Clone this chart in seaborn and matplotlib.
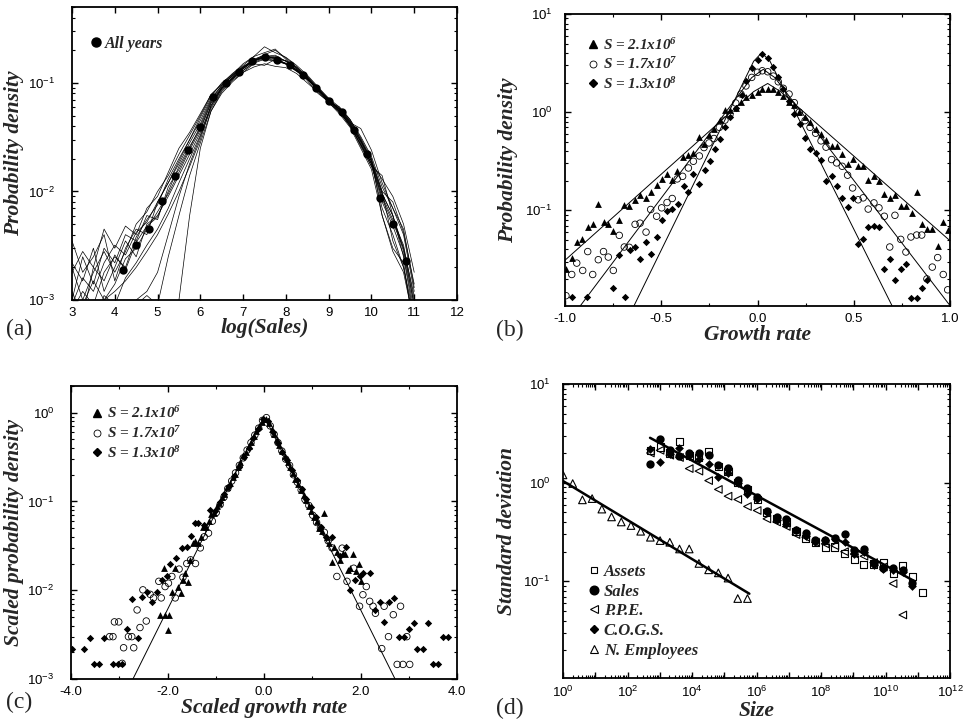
import numpy as np
import pandas as pd
import matplotlib
matplotlib.use("Agg")
import matplotlib.pyplot as plt
import seaborn as sns
from matplotlib.lines import Line2D
from matplotlib.font_manager import FontProperties
from matplotlib import ticker

# ---------------- Panel (a): distribution of log(Sales) ----------------
log_sales_grid = [3.0, 3.25, 3.5, 3.75, 4.0, 4.25, 4.5, 4.75, 5.0, 5.25, 5.5,
                  5.75, 6.0, 6.25, 6.5, 6.75, 7.0, 7.25, 7.5, 7.75, 8.0, 8.25,
                  8.5, 8.75, 9.0, 9.25, 9.5, 9.75, 10.0, 10.25, 10.5, 10.75, 11.0]

year_density = [
    [0.0022, 0.0015, 0.0030, 0.0012, 0.0020, 0.0035, 0.0025, 0.0050, 0.0060, 0.0090, 0.014, 0.022, 0.035, 0.060, 0.088, 0.110, 0.135, 0.160, 0.175, 0.170, 0.150, 0.130, 0.110, 0.085, 0.070, 0.058, 0.045, 0.030, 0.019, 0.0095, 0.0060, 0.0030, 0.0009],
    [0.0035, 0.0018, 0.0025, 0.0040, 0.0015, 0.0030, 0.0045, 0.0040, 0.0080, 0.012, 0.018, 0.028, 0.042, 0.070, 0.095, 0.115, 0.140, 0.165, 0.180, 0.165, 0.160, 0.140, 0.115, 0.090, 0.065, 0.055, 0.040, 0.027, 0.017, 0.0140, 0.0060, 0.0025, 0.0007],
    [0.0008, 0.0012, 0.0009, 0.0018, 0.0025, 0.0020, 0.0038, 0.0055, 0.0075, 0.013, 0.020, 0.030, 0.048, 0.075, 0.100, 0.120, 0.150, 0.175, 0.190, 0.205, 0.165, 0.135, 0.105, 0.080, 0.067, 0.060, 0.046, 0.032, 0.021, 0.011, 0.0070, 0.0040, 0.0012],
    [0.0005, 0.0008, 0.0006, 0.0011, 0.0009, 0.0016, 0.0022, 0.0032, 0.0045, 0.0070, 0.012, 0.020, 0.033, 0.062, 0.090, 0.112, 0.138, 0.163, 0.170, 0.160, 0.150, 0.128, 0.108, 0.088, 0.072, 0.057, 0.042, 0.029, 0.020, 0.0060, 0.0028, 0.0018, 0.0006],
    [0.0004, 0.0005, 0.0006, 0.0007, 0.0008, 0.0009, 0.0010, 0.0012, 0.0018, 0.0040, 0.0090, 0.018, 0.032, 0.058, 0.085, 0.108, 0.130, 0.155, 0.168, 0.172, 0.160, 0.138, 0.112, 0.085, 0.068, 0.054, 0.041, 0.026, 0.017, 0.0090, 0.0055, 0.0032, 0.0010],
    [0.0003, 0.0004, 0.0005, 0.0006, 0.0007, 0.0008, 0.0009, 0.0011, 0.0009, 0.0025, 0.0060, 0.014, 0.028, 0.055, 0.083, 0.105, 0.125, 0.140, 0.150, 0.142, 0.138, 0.122, 0.100, 0.082, 0.066, 0.052, 0.039, 0.025, 0.016, 0.0060, 0.0030, 0.0022, 0.0005],
    [0.0010, 0.0025, 0.0014, 0.0030, 0.0022, 0.0040, 0.0035, 0.0060, 0.0055, 0.011, 0.016, 0.025, 0.040, 0.068, 0.092, 0.118, 0.142, 0.162, 0.175, 0.180, 0.158, 0.132, 0.112, 0.088, 0.066, 0.058, 0.044, 0.029, 0.018, 0.0130, 0.0090, 0.0050, 0.0018],
    [0.0020, 0.0010, 0.0018, 0.0028, 0.0018, 0.0028, 0.0050, 0.0065, 0.0100, 0.014, 0.022, 0.033, 0.050, 0.078, 0.098, 0.122, 0.145, 0.175, 0.215, 0.190, 0.172, 0.145, 0.118, 0.092, 0.072, 0.060, 0.046, 0.031, 0.020, 0.010, 0.0080, 0.0042, 0.0014],
    [0.0006, 0.0009, 0.0015, 0.0010, 0.0014, 0.0024, 0.0030, 0.0045, 0.0065, 0.0095, 0.015, 0.024, 0.037, 0.065, 0.090, 0.112, 0.135, 0.160, 0.178, 0.168, 0.148, 0.128, 0.108, 0.087, 0.070, 0.055, 0.042, 0.027, 0.018, 0.0070, 0.0040, 0.0020, 0.0007],
    [0.0012, 0.0007, 0.0020, 0.0015, 0.0026, 0.0019, 0.0034, 0.0048, 0.0058, 0.010, 0.017, 0.026, 0.038, 0.066, 0.090, 0.108, 0.130, 0.152, 0.165, 0.158, 0.150, 0.132, 0.110, 0.086, 0.068, 0.057, 0.043, 0.028, 0.018, 0.0095, 0.0060, 0.0028, 0.0009],
    [0.0004, 0.0006, 0.0008, 0.0010, 0.0012, 0.0015, 0.0020, 0.0028, 0.0040, 0.0062, 0.010, 0.017, 0.030, 0.062, 0.088, 0.110, 0.135, 0.158, 0.172, 0.176, 0.158, 0.136, 0.112, 0.086, 0.071, 0.055, 0.041, 0.029, 0.019, 0.0085, 0.0052, 0.0030, 0.0011],
    [0.0018, 0.0028, 0.0020, 0.0045, 0.0030, 0.0048, 0.0040, 0.0070, 0.0090, 0.015, 0.025, 0.035, 0.052, 0.078, 0.096, 0.118, 0.140, 0.160, 0.170, 0.165, 0.152, 0.132, 0.110, 0.090, 0.070, 0.058, 0.044, 0.030, 0.019, 0.0100, 0.0035, 0.0020, 0.0006],
    [0.0002, 0.0003, 0.0004, 0.0005, 0.0006, 0.0007, 0.0008, 0.0009, 0.0008, 0.0009, 0.0010, 0.0060, 0.025, 0.055, 0.080, 0.102, 0.125, 0.150, 0.145, 0.165, 0.150, 0.130, 0.108, 0.084, 0.066, 0.054, 0.040, 0.027, 0.018, 0.0080, 0.0048, 0.0026, 0.0008],
    [0.0009, 0.0016, 0.0012, 0.0022, 0.0032, 0.0026, 0.0042, 0.0052, 0.0080, 0.012, 0.019, 0.030, 0.045, 0.072, 0.094, 0.116, 0.138, 0.162, 0.182, 0.200, 0.170, 0.140, 0.114, 0.090, 0.068, 0.056, 0.043, 0.038, 0.024, 0.012, 0.0070, 0.0045, 0.0013],
]

all_years_x = [4.2, 4.5, 4.8, 5.1, 5.4, 5.7, 6.0, 6.3, 6.6, 6.9, 7.2, 7.5,
               7.8, 8.1, 8.4, 8.7, 9.0, 9.3, 9.6, 9.9, 10.2, 10.5, 10.8]
all_years_y = [0.00187, 0.0032, 0.0045, 0.0081, 0.0139, 0.0239, 0.039, 0.074,
               0.100, 0.125, 0.158, 0.172, 0.163, 0.145, 0.119, 0.089, 0.068,
               0.054, 0.037, 0.022, 0.0087, 0.0050, 0.0023]

# ---------------- Panel (b): growth-rate distributions ----------------
tri_b_x = [-0.995, -0.965, -0.939, -0.913, -0.882, -0.856, -0.827, -0.800, -0.775, -0.749,
           -0.718, -0.692, -0.666, -0.636, -0.610, -0.579, -0.555, -0.524, -0.498, -0.472,
           -0.446, -0.417, -0.389, -0.359, -0.333, -0.302, -0.278, -0.252, -0.226, -0.195,
           -0.169, -0.143, -0.113, -0.086, -0.060, -0.030, 0.000, 0.025, 0.053, 0.082,
           0.108, 0.134, 0.164, 0.191, 0.217, 0.247, 0.273, 0.302, 0.330, 0.356,
           0.385, 0.411, 0.440, 0.468, 0.494, 0.523, 0.549, 0.575, 0.605, 0.631,
           0.659, 0.688, 0.714, 0.744, 0.771, 0.800, 0.827, 0.853, 0.879, 0.908,
           0.936, 0.962, 0.991]
tri_b_y = [0.0254, 0.033, 0.0475, 0.0506, 0.0676, 0.073, 0.117, 0.076, 0.073, 0.0615,
           0.080, 0.112, 0.110, 0.126, 0.142, 0.132, 0.154, 0.180, 0.210, 0.233,
           0.206, 0.252, 0.350, 0.370, 0.380, 0.552, 0.471, 0.582, 0.666, 0.830,
           1.05, 1.05, 1.10, 1.27, 1.43, 1.49, 1.62, 1.72, 1.74, 1.72,
           1.61, 1.46, 1.27, 1.18, 1.00, 0.90, 0.80, 0.666, 0.60, 0.526,
           0.45, 0.45, 0.373, 0.295, 0.331, 0.281, 0.285, 0.206, 0.222, 0.199,
           0.146, 0.132, 0.142, 0.110, 0.110, 0.095, 0.154, 0.072, 0.065, 0.065,
           0.043, 0.076, 0.0636]

circ_b_x = [-0.995, -0.965, -0.939, -0.908, -0.882, -0.856, -0.827, -0.800, -0.775, -0.749,
            -0.718, -0.692, -0.666, -0.636, -0.610, -0.579, -0.555, -0.524, -0.498, -0.470,
            -0.443, -0.417, -0.389, -0.359, -0.333, -0.302, -0.278, -0.252, -0.226, -0.198,
            -0.169, -0.143, -0.113, -0.086, -0.060, -0.030, 0.000, 0.025, 0.053, 0.082,
            0.108, 0.134, 0.164, 0.191, 0.217, 0.247, 0.273, 0.302, 0.330, 0.356,
            0.385, 0.411, 0.440, 0.468, 0.494, 0.523, 0.549, 0.575, 0.605, 0.631,
            0.659, 0.687, 0.714, 0.744, 0.771, 0.797, 0.827, 0.853, 0.880, 0.908,
            0.936, 0.965, 0.988]
circ_b_y = [0.0135, 0.0222, 0.029, 0.0244, 0.038, 0.0222, 0.0314, 0.038, 0.0334, 0.0244,
            0.0556, 0.0423, 0.042, 0.072, 0.074, 0.060, 0.102, 0.087, 0.106, 0.120,
            0.132, 0.209, 0.222, 0.270, 0.316, 0.358, 0.436, 0.486, 0.539, 0.700,
            0.830, 0.95, 1.24, 1.53, 1.85, 2.26, 2.55, 2.64, 2.58, 2.33,
            2.04, 1.75, 1.53, 1.25, 1.00, 0.82, 0.70, 0.61, 0.51, 0.44,
            0.329, 0.304, 0.281, 0.228, 0.169, 0.128, 0.134, 0.103, 0.119, 0.106,
            0.087, 0.0423, 0.089, 0.0506, 0.0376, 0.0535, 0.056, 0.056, 0.020, 0.0264,
            0.033, 0.0222, 0.0155]

diam_b_x = [-0.965, -0.887, -0.749, -0.718, -0.688, -0.662, -0.636, -0.610, -0.579, -0.555,
            -0.524, -0.498, -0.472, -0.446, -0.411, -0.382, -0.359, -0.333, -0.302, -0.275,
            -0.247, -0.221, -0.195, -0.169, -0.143, -0.113, -0.082, -0.060, -0.030, 0.000,
            0.025, 0.053, 0.082, 0.108, 0.134, 0.164, 0.191, 0.219, 0.247, 0.273,
            0.302, 0.330, 0.354, 0.385, 0.411, 0.440, 0.468, 0.494, 0.523, 0.549,
            0.575, 0.605, 0.631, 0.659, 0.688, 0.714, 0.744, 0.771, 0.797, 0.827,
            0.853, 0.879]
diam_b_y = [0.013, 0.013, 0.0163, 0.035, 0.013, 0.039, 0.042, 0.032, 0.048, 0.036,
            0.054, 0.080, 0.098, 0.103, 0.117, 0.177, 0.154, 0.237, 0.184, 0.26,
            0.319, 0.42, 0.539, 0.70, 0.90, 1.09, 1.49, 2.09, 2.83, 3.4,
            3.88, 3.60, 2.86, 2.30, 1.71, 1.30, 0.95, 0.75, 0.547, 0.426,
            0.385, 0.324, 0.199, 0.224, 0.176, 0.134, 0.108, 0.135, 0.045, 0.051,
            0.067, 0.070, 0.067, 0.0254, 0.032, 0.0193, 0.0254, 0.0286, 0.0129, 0.0129,
            0.0163, 0.0196]

fit_tri_b_x = [-1.0, -0.02, 0.053, 0.12, 1.0]
fit_tri_b_y = [0.031, 1.62, 1.96, 1.62, 0.049]
fit_circ_b_x = [-1.0, -0.03, 0.03, 0.09, 1.0]
fit_circ_b_y = [0.0066, 2.25, 2.73, 2.25, 0.0107]
fit_diam_b_x = [-1.0, -0.02, 0.022, 0.065, 1.0]
fit_diam_b_y = [0.00039, 3.3, 4.03, 3.3, 0.0007]

# ---------------- Panel (c): scaled distributions ----------------
tri_c_x = [-2.15, -2.08, -2.05, -1.99, -1.97, -1.90, -1.84, -1.79, -1.73, -1.68,
           -1.63, -1.58, -1.53, -1.47, -1.42, -1.37, -1.31, -1.26, -1.20, -1.15,
           -1.09, -1.04, -0.98, -0.93, -0.87, -0.82, -0.76, -0.71, -0.65, -0.60,
           -0.54, -0.49, -0.43, -0.38, -0.32, -0.27, -0.21, -0.16, -0.10, -0.05,
           0.00, 0.05, 0.10, 0.16, 0.21, 0.27, 0.32, 0.38, 0.43, 0.49,
           0.54, 0.60, 0.65, 0.71, 0.76, 0.82, 0.87, 0.93, 0.98, 1.04,
           1.09, 1.15, 1.20, 1.24, 1.30, 1.35, 1.41, 1.46, 1.52, 1.57,
           1.63, 1.68, 1.74, 1.79, 1.85, 1.90, 1.96, 2.01]
tri_c_y = [0.0053, 0.018, 0.0053, 0.0036, 0.0053, 0.0095, 0.018, 0.011, 0.0093, 0.0131,
           0.0158, 0.0125, 0.022, 0.034, 0.036, 0.034, 0.040, 0.052, 0.052, 0.060,
           0.072, 0.074, 0.088, 0.095, 0.112, 0.122, 0.145, 0.160, 0.190, 0.205,
           0.245, 0.275, 0.33, 0.36, 0.42, 0.47, 0.55, 0.62, 0.71, 0.79,
           0.85, 0.84, 0.77, 0.66, 0.58, 0.50, 0.43, 0.37, 0.325, 0.28,
           0.245, 0.21, 0.180, 0.158, 0.135, 0.118, 0.104, 0.090, 0.078, 0.067,
           0.060, 0.050, 0.046, 0.074, 0.040, 0.034, 0.021, 0.031, 0.027, 0.022,
           0.026, 0.0255, 0.017, 0.018, 0.0255, 0.0163, 0.0195, 0.0126]

circ_c_x = [-3.20, -3.13, -3.10, -3.01, -2.94, -2.91, -2.81, -2.74, -2.70, -2.63,
            -2.57, -2.51, -2.44, -2.36, -2.29, -2.18, -2.13, -2.05, -1.98, -1.91,
            -1.84, -1.76, -1.68, -1.60, -1.52, -1.42, -1.32, -1.24, -1.15, -1.07,
            -0.99, -0.91, -0.83, -0.75, -0.67, -0.59, -0.51, -0.43, -0.35, -0.27,
            -0.19, -0.11, -0.03, 0.05, 0.13, 0.21, 0.29, 0.37, 0.45, 0.53,
            0.61, 0.69, 0.77, 0.85, 0.93, 1.01, 1.09, 1.17, 1.25, 1.33,
            1.41, 1.51, 1.62, 1.72, 1.86, 1.98, 2.05, 2.12, 2.19, 2.26,
            2.31, 2.44, 2.49, 2.58, 2.68, 2.76, 2.83, 2.88, 2.96, 3.02]
circ_c_y = [0.0030, 0.0030, 0.0044, 0.0044, 0.0015, 0.00225, 0.0030, 0.0030, 0.00225, 0.0060,
            0.0038, 0.0101, 0.0045, 0.0090, 0.0082, 0.0126, 0.0082, 0.0110, 0.0120, 0.0143,
            0.0082, 0.0173, 0.0140, 0.0200, 0.0220, 0.0200, 0.0300, 0.0400, 0.0440, 0.0600,
            0.075, 0.092, 0.112, 0.140, 0.170, 0.210, 0.255, 0.310, 0.380, 0.460,
            0.56, 0.67, 0.82, 0.88, 0.71, 0.57, 0.46, 0.37, 0.30, 0.255,
            0.20, 0.165, 0.135, 0.105, 0.090, 0.070, 0.058, 0.050, 0.045, 0.036,
            0.030, 0.0143, 0.0298, 0.0126, 0.0177, 0.0066, 0.0089, 0.0110, 0.0075, 0.0066,
            0.0055, 0.0022, 0.0066, 0.0030, 0.0053, 0.00146, 0.0066, 0.00146, 0.0030, 0.00146]

diam_c_x = [-3.98, -3.74, -3.61, -3.52, -3.43, -3.32, -3.12, -3.03, -2.94, -2.83,
            -2.74, -2.61, -2.53, -2.42, -2.32, -2.21, -2.11, -2.01, -1.94, -1.82,
            -1.70, -1.60, -1.51, -1.42, -1.36, -1.24, -1.12, -1.02, -0.92, -0.82,
            -0.72, -0.62, -0.52, -0.42, -0.32, -0.22, -0.12, -0.02, 0.08, 0.18,
            0.28, 0.38, 0.48, 0.58, 0.68, 0.78, 0.88, 0.98, 1.08, 1.18,
            1.28, 1.41, 1.57, 1.69, 1.79, 1.89, 1.98, 2.06, 2.19, 2.31,
            2.40, 2.49, 2.60, 2.70, 2.79, 2.90, 3.00, 3.10, 3.18, 3.30,
            3.40, 3.50, 3.61, 3.71, 3.81]
diam_c_y = [0.0022, 0.0022, 0.0029, 0.00146, 0.00146, 0.0029, 0.00146, 0.00146, 0.00146, 0.0037,
            0.0079, 0.0029, 0.0085, 0.0095, 0.0073, 0.0095, 0.0131, 0.0143, 0.0195, 0.023,
            0.0298, 0.031, 0.041, 0.057, 0.057, 0.055, 0.080, 0.078, 0.098, 0.122,
            0.150, 0.195, 0.245, 0.32, 0.40, 0.52, 0.66, 0.84, 0.80, 0.60,
            0.46, 0.36, 0.29, 0.225, 0.175, 0.140, 0.108, 0.086, 0.066, 0.052,
            0.040, 0.040, 0.024, 0.0305, 0.0100, 0.0131, 0.0143, 0.0158, 0.0155, 0.0060,
            0.0073, 0.0044, 0.0073, 0.0082, 0.0030, 0.0030, 0.0037, 0.0043, 0.0022, 0.0022,
            0.0043, 0.00146, 0.00146, 0.0030, 0.0030]

fit_c_x = [-2.9, -0.1, 0.0, 0.1, 2.9]
fit_c_y = [0.00063, 0.72, 0.86, 0.72, 0.00063]

# ---------------- Panel (d): standard deviation vs size ----------------
employees_x = [1, 2, 4, 8, 16, 32, 64, 128, 256, 512, 1024, 2048, 4096, 8192,
               16384, 32768, 65536, 131072, 262144, 524288]
employees_y = [1.2, 0.98, 0.67, 0.69, 0.54, 0.45, 0.40, 0.368, 0.322, 0.28,
               0.259, 0.249, 0.213, 0.213, 0.152, 0.131, 0.122, 0.108, 0.067, 0.067]

firm_size_x = [512, 1024, 2048, 4096, 8192, 16384, 32768, 65536, 131072, 262144,
               524288, 1048576, 2097152, 4194304, 8388608, 16777216, 33554432,
               67108864, 134217728, 268435456, 536870912, 1073741824, 2147483648,
               4294967296, 8589934592, 17179869184, 34359738368, 68719476736,
               137438953472]
assets_y = [2.1, 2.3, 2.0, 2.59, 1.9, 1.8, 2.05, 1.45, 1.3, 1.0, 0.85, 0.68, 0.50,
            0.43, 0.40, 0.32, 0.27, 0.25, 0.221, 0.223, 0.19, 0.165, 0.148, 0.15,
            0.156, 0.12, 0.144, 0.111, 0.077]
sales_y = [1.56, 2.74, 2.13, 1.85, 2.0, 2.0, 1.9, 1.5, 1.42, 1.07, 0.89, 0.71, 0.52,
           0.45, 0.43, 0.333, 0.307, 0.263, 0.263, 0.275, 0.303, 0.208, 0.213,
           0.152, 0.138, 0.136, 0.130, 0.097]
ppe_y = [2.0, 2.13, 1.9, 1.8, 1.39, 1.31, 1.05, 0.855, 0.73, 0.676, 0.574, 0.523,
         0.43, 0.40, 0.36, 0.298, 0.28, 0.25, 0.24, 0.23, 0.20, 0.19, 0.18, 0.155,
         0.14, 0.095, 0.0457]
cogs_y = [2.22, 1.62, 1.95, 2.25, 1.85, 1.75, 1.56, 1.14, 1.25, 1.0, 0.77, 0.68,
          0.50, 0.42, 0.38, 0.33, 0.29, 0.25, 0.26, 0.27, 0.25, 0.19, 0.20, 0.145,
          0.135, 0.13, 0.125, 0.09]

fit_employees_x = [1, 6.0e5]
fit_employees_y = [1.04, 0.075]
fit_firms_x = [500, 8.2e10]
fit_firms_y = [2.85, 0.100]

legend_b_labels = [r"S = 2.1x10$^{\mathbf{6}}$", r"S = 1.7x10$^{\mathbf{7}}$",
                   r"S = 1.3x10$^{\mathbf{8}}$"]
legend_d_labels = ["Assets", "Sales", "P.P.E.", "C.O.G.S.", "N. Employees"]

# ---------------- style ----------------
sns.set_theme(style="ticks")
plt.rcParams["font.family"] = ["Liberation Sans", "DejaVu Sans"]
plt.rcParams["mathtext.fontset"] = "custom"
plt.rcParams["mathtext.rm"] = "Liberation Sans"
plt.rcParams["mathtext.it"] = "Liberation Sans:italic"
plt.rcParams["mathtext.bf"] = "Liberation Serif:bold:italic"
plt.rcParams["axes.unicode_minus"] = False

label_font = FontProperties(family="Liberation Serif", weight="bold", style="italic", size=15.5)
leg_font_a = FontProperties(family="Liberation Serif", weight="bold", style="italic", size=11.5)
leg_font_b = FontProperties(family="Liberation Serif", weight="bold", style="italic", size=11)
leg_font_d = FontProperties(family="Liberation Serif", weight="bold", style="italic", size=12)
panel_font = FontProperties(family="Liberation Serif", size=17)

fig = plt.figure(figsize=(9.65, 7.21), dpi=100)
W, H = 965.0, 721.0


def axes_px(left, top, right, bottom):
    return fig.add_axes([left / W, 1 - bottom / H, (right - left) / W, (bottom - top) / H])


def pow10(v, pos):
    if v <= 0:
        return ""
    e = int(round(np.log10(v)))
    return r"$\mathrm{10^{%d}}$" % e


def pow10_even(v, pos):
    e = int(round(np.log10(v)))
    if e % 2:
        return ""
    return r"$\mathrm{10^{%d}}$" % e


def style(ax, ypad=10, logy=True):
    for s in ax.spines.values():
        s.set_linewidth(1.3)
        s.set_color("black")
    ax.tick_params(which="both", direction="in", top=True, right=True,
                   colors="black", labelsize=9.5)
    ax.tick_params(axis="x", pad=5)
    ax.tick_params(axis="y", pad=ypad)
    ax.tick_params(which="major", length=4.5, width=1.0)
    ax.tick_params(which="minor", length=2.5, width=0.8)
    if logy:
        ax.yaxis.set_major_locator(ticker.LogLocator(base=10, numticks=30))
        ax.yaxis.set_minor_locator(ticker.LogLocator(base=10, subs=np.arange(2, 10), numticks=30))
        ax.yaxis.set_major_formatter(ticker.FuncFormatter(pow10))
        ax.yaxis.set_minor_formatter(ticker.NullFormatter())
    ax.set_facecolor("white")


# ---------------- (a) ----------------
ax = axes_px(72, 7, 457, 300)
df_a = pd.DataFrame({
    "log_sales": np.tile(log_sales_grid, len(year_density)),
    "density": np.concatenate(year_density),
    "year": np.repeat(np.arange(len(year_density)), len(log_sales_grid)),
})
sns.lineplot(data=df_a, x="log_sales", y="density", units="year", estimator=None,
             color="black", lw=0.5, ax=ax, legend=False)
sns.scatterplot(x=all_years_x, y=all_years_y, marker="o", s=36, color="black",
                edgecolor="black", linewidth=0, ax=ax, zorder=4)
ax.set_yscale("log")
ax.set_xlim(3, 12)
ax.set_ylim(1e-3, 0.5)
style(ax, ypad=12)
ax.xaxis.set_major_locator(ticker.MultipleLocator(1))
ax.xaxis.set_minor_locator(ticker.NullLocator())
ax.set_xlabel("log(Sales)", fontproperties=label_font)
ax.set_ylabel("Probability density", fontproperties=label_font)
ax.xaxis.set_label_coords(0.5, -0.062)
ax.yaxis.set_label_coords(-0.125, 0.5)
h = [Line2D([], [], ls="none", marker="o", ms=6.5, color="black")]
ax.legend(h, ["All years"], loc="upper left", bbox_to_anchor=(0.045, 0.902),
          frameon=False, prop=leg_font_a, handlelength=0.8, handletextpad=0.2,
          borderpad=0, borderaxespad=0)

# ---------------- (b) ----------------
ax = axes_px(565, 14, 950, 306)
df_fit_b = pd.DataFrame({
    "g": fit_tri_b_x + fit_circ_b_x + fit_diam_b_x,
    "p": fit_tri_b_y + fit_circ_b_y + fit_diam_b_y,
    "s": ["t"] * 5 + ["c"] * 5 + ["d"] * 5,
})
sns.lineplot(data=df_fit_b, x="g", y="p", units="s", estimator=None, color="black",
             lw=0.7, ax=ax, legend=False, sort=False)
sns.scatterplot(x=tri_b_x, y=tri_b_y, marker="^", s=24, color="black",
                edgecolor="black", linewidth=0, ax=ax, zorder=4)
sns.scatterplot(x=circ_b_x, y=circ_b_y, marker="o", s=22, facecolor="none",
                edgecolor="black", linewidth=0.6, ax=ax, zorder=4)
sns.scatterplot(x=diam_b_x, y=diam_b_y, marker="D", s=14, color="black",
                edgecolor="black", linewidth=0, ax=ax, zorder=4)
ax.set_yscale("log")
ax.set_xlim(-1, 1)
ax.set_ylim(0.0106, 10)
style(ax, ypad=9)
ax.xaxis.set_major_locator(ticker.MultipleLocator(0.5))
ax.xaxis.set_minor_locator(ticker.MultipleLocator(0.25))
ax.xaxis.set_major_formatter(ticker.FormatStrFormatter("%.1f"))
ax.set_xlabel("Growth rate", fontproperties=label_font)
ax.set_ylabel("Probability density", fontproperties=label_font)
ax.xaxis.set_label_coords(0.5, -0.066)
ax.yaxis.set_label_coords(-0.122, 0.5)
hb = [Line2D([], [], ls="none", marker="^", ms=5.2, color="black"),
      Line2D([], [], ls="none", marker="o", ms=5, mfc="none", mec="black", mew=0.6),
      Line2D([], [], ls="none", marker="D", ms=3.8, color="black")]
ax.legend(hb, legend_b_labels, loc="upper left", bbox_to_anchor=(0.058, 0.925),
          frameon=False, prop=leg_font_b, handlelength=0.8, handletextpad=0.2,
          labelspacing=0.2, borderpad=0, borderaxespad=0)

# ---------------- (c) ----------------
ax = axes_px(71, 386, 457, 679)
sns.lineplot(x=fit_c_x, y=fit_c_y, color="black", lw=0.7, ax=ax, estimator=None, sort=False)
sns.scatterplot(x=circ_c_x, y=circ_c_y, marker="o", s=22, facecolor="none",
                edgecolor="black", linewidth=0.6, ax=ax, zorder=4)
sns.scatterplot(x=diam_c_x, y=diam_c_y, marker="D", s=14, color="black",
                edgecolor="black", linewidth=0, ax=ax, zorder=4)
sns.scatterplot(x=tri_c_x, y=tri_c_y, marker="^", s=24, color="black",
                edgecolor="black", linewidth=0, ax=ax, zorder=4)
ax.set_yscale("log")
ax.set_xlim(-4, 4)
ax.set_ylim(1e-3, 2.0)
style(ax, ypad=12)
ax.xaxis.set_major_locator(ticker.MultipleLocator(2))
ax.xaxis.set_minor_locator(ticker.MultipleLocator(1))
ax.xaxis.set_major_formatter(ticker.FormatStrFormatter("%.1f"))
ax.set_xlabel("Scaled growth rate", fontproperties=label_font)
ax.set_ylabel("Scaled probability density", fontproperties=label_font)
ax.xaxis.set_label_coords(0.5, -0.066)
ax.yaxis.set_label_coords(-0.122, 0.5)
ax.legend(hb, legend_b_labels, loc="upper left", bbox_to_anchor=(0.052, 0.936),
          frameon=False, prop=leg_font_b, handlelength=0.8, handletextpad=0.25,
          labelspacing=0.2, borderpad=0, borderaxespad=0)

# ---------------- (d) ----------------
ax = axes_px(563, 384, 950, 678)
df_fit_d = pd.DataFrame({"x": fit_employees_x + fit_firms_x,
                         "y": fit_employees_y + fit_firms_y,
                         "s": ["e", "e", "f", "f"]})
sns.lineplot(data=df_fit_d, x="x", y="y", units="s", estimator=None, color="black",
             lw=1.8, ax=ax, legend=False, sort=False)
sns.scatterplot(x=firm_size_x[:len(ppe_y)], y=ppe_y, marker="<", s=30, facecolor="none",
                edgecolor="black", linewidth=0.8, ax=ax, zorder=3)
sns.scatterplot(x=firm_size_x[:len(assets_y)], y=assets_y, marker="s", s=26, facecolor="none",
                edgecolor="black", linewidth=0.8, ax=ax, zorder=3)
sns.scatterplot(x=firm_size_x[:len(sales_y)], y=sales_y, marker="o", s=36, color="black",
                edgecolor="black", linewidth=0, ax=ax, zorder=4)
sns.scatterplot(x=firm_size_x[:len(cogs_y)], y=cogs_y, marker="D", s=20, color="black",
                edgecolor="black", linewidth=0, ax=ax, zorder=4)
sns.scatterplot(x=employees_x, y=employees_y, marker="^", s=30, facecolor="none",
                edgecolor="black", linewidth=0.8, ax=ax, zorder=4)
ax.set_xscale("log")
ax.set_yscale("log")
ax.set_xlim(1, 1e12)
ax.set_ylim(0.0105, 10)
style(ax, ypad=9)
ax.xaxis.set_major_locator(ticker.LogLocator(base=10, numticks=30))
ax.xaxis.set_minor_locator(ticker.LogLocator(base=10, subs=np.arange(2, 10), numticks=30))
ax.xaxis.set_major_formatter(ticker.FuncFormatter(pow10_even))
ax.xaxis.set_minor_formatter(ticker.NullFormatter())
ax.set_xlabel("Size", fontproperties=label_font)
ax.set_ylabel("Standard deviation", fontproperties=label_font)
ax.xaxis.set_label_coords(0.5, -0.078)
ax.yaxis.set_label_coords(-0.12, 0.5)
hd = [Line2D([], [], ls="none", marker="s", ms=5, mfc="none", mec="black", mew=0.8),
      Line2D([], [], ls="none", marker="o", ms=6.2, color="black"),
      Line2D([], [], ls="none", marker="<", ms=5.5, mfc="none", mec="black", mew=0.8),
      Line2D([], [], ls="none", marker="D", ms=4.5, color="black"),
      Line2D([], [], ls="none", marker="^", ms=5.5, mfc="none", mec="black", mew=0.8)]
ax.legend(hd, legend_d_labels, loc="upper left", bbox_to_anchor=(0.062, 0.388),
          frameon=False, prop=leg_font_d, handlelength=0.8, handletextpad=0.2,
          labelspacing=0.22, borderpad=0, borderaxespad=0)

# panel letters
fig.text(6 / W, 1 - 329 / H, "(a)", fontproperties=panel_font, va="center", ha="left")
fig.text(496 / W, 1 - 330 / H, "(b)", fontproperties=panel_font, va="center", ha="left")
fig.text(6 / W, 1 - 702 / H, "(c)", fontproperties=panel_font, va="center", ha="left")
fig.text(496 / W, 1 - 708 / H, "(d)", fontproperties=panel_font, va="center", ha="left")

fig.savefig("out.png", dpi=100, facecolor="white")
